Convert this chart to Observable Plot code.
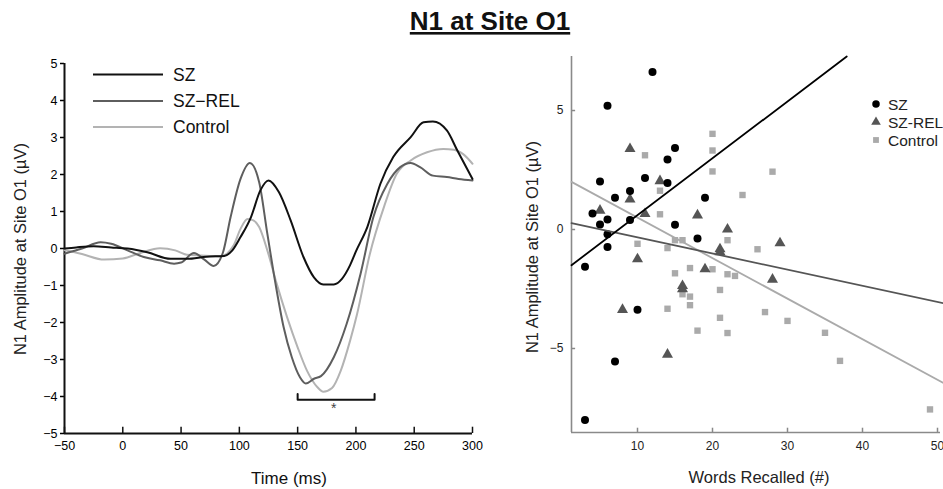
<!DOCTYPE html>
<html><head><meta charset="utf-8">
<script src="https://cdn.jsdelivr.net/npm/d3@7"></script>
<script src="https://cdn.jsdelivr.net/npm/@observablehq/plot@0.6"></script>
<style>
body{margin:0;background:#fff;}
#wrap{position:relative;width:943px;height:489px;overflow:hidden;background:#fff;font-family:"Liberation Sans",Arial,sans-serif;}
#left{position:absolute;left:0;top:0;}
#right{position:absolute;left:490px;top:0;}
#over{position:absolute;left:0;top:0;pointer-events:none;}
</style>
</head><body>
<div id="wrap"><div id="left"></div><div id="right"></div><svg id="over" width="943" height="489"></svg></div>
<script>
// ---------- Left panel: ERP waveforms ----------
const groups = ["SZ", "SZ\u2212REL", "Control"];
const timeTicks = [-50, 0, 50, 100, 150, 200, 250, 300];
const ampTicks = [-5, -4, -3, -2, -1, 0, 1, 2, 3, 4, 5];

const szT = [-50, -40, -25, -10, 4, 21, 41, 55, 72, 87, 94, 101, 110, 118, 125, 134, 144, 155, 164, 172, 181, 188, 195, 200, 210, 221, 232, 247, 258, 266, 278, 287, 300];
const szV = [0.0, 0.03, 0.06, 0.03, 0.0, -0.1, -0.28, -0.28, -0.22, -0.2, -0.05, 0.31, 0.85, 1.57, 1.84, 1.52, 0.76, -0.23, -0.78, -0.97, -0.97, -0.82, -0.45, -0.08, 0.6, 1.75, 2.47, 3.01, 3.41, 3.43, 3.19, 2.65, 1.88];

const relT = [-50, -35, -19, -10, 4, 18, 32, 44, 50, 61, 70, 78, 86, 92.5, 101, 109, 117, 124, 131, 138, 145, 152, 157, 164, 170, 181, 192, 204, 215, 227, 238, 247, 255, 266, 278, 288, 300];
const relV = [-0.14, 0.0, 0.17, 0.13, -0.05, -0.23, -0.32, -0.41, -0.38, -0.12, -0.3, -0.47, -0.1, 0.85, 1.88, 2.31, 1.79, 0.4, -0.95, -2.13, -2.94, -3.48, -3.65, -3.52, -3.45, -2.94, -2.04, -0.68, 0.85, 1.75, 2.2, 2.31, 2.2, 1.97, 1.93, 1.88, 1.84];

const ctlT = [-50, -35, -16, 0, 15, 32, 45, 55, 67, 84, 95, 101, 107, 112, 117, 124, 132, 141, 150, 158, 167, 172, 179.5, 187, 195, 201, 212, 224, 235, 247, 261, 275, 284, 292, 300];
const ctlV = [-0.05, -0.15, -0.3, -0.27, -0.12, 0.01, -0.05, -0.17, -0.19, -0.21, 0.08, 0.53, 0.8, 0.76, 0.58, -0.05, -0.95, -1.86, -2.67, -3.3, -3.75, -3.87, -3.77, -3.3, -2.49, -1.77, -0.14, 1.12, 2.02, 2.38, 2.6, 2.69, 2.67, 2.55, 2.29];

const bracketT = [150, 150, 216, 216];
const bracketV = [-3.93, -4.09, -4.09, -3.93];
const starT = [181];
const starV = [-4.32];

// ---------- Right panel: scatter ----------
const wordTicks = [10, 20, 30, 40, 50];
const scatTicks = [-5, 0, 5];
const scatGroups = ["SZ", "SZ-REL", "Control"];

const szX = [12, 6, 15, 14, 11, 5, 14, 9, 7, 19, 4, 5, 6, 9, 15, 6, 18, 6, 3, 10, 7, 3];
const szY = [6.62, 5.2, 3.42, 2.94, 2.16, 2.02, 1.95, 1.62, 1.33, 1.33, 0.67, 0.21, 0.42, 0.4, 0.2, -0.2, -0.38, -0.74, -1.56, -3.37, -5.55, -8.0];

const relX = [9, 13, 9, 5, 11, 18, 22, 10, 21, 21, 19, 16, 16, 8, 14, 29, 28];
const relY = [3.39, 2.04, 1.27, 0.8, 0.66, 0.6, 0.01, -1.24, -0.82, -0.95, -1.66, -2.37, -2.5, -3.37, -5.25, -0.57, -2.1];

const ctlX = [20, 20, 11, 20, 13, 13, 10, 15, 16, 14, 22, 15, 17, 20, 22, 23, 21, 16, 17, 17, 14, 21, 18, 22, 24, 28, 26, 27, 30, 35, 37, 49];
const ctlY = [4.02, 3.32, 3.12, 2.44, 1.63, 0.64, -0.6, -0.45, -0.45, -0.78, -0.45, -1.84, -1.62, -1.67, -1.88, -1.95, -2.54, -2.72, -2.82, -3.18, -3.33, -3.71, -4.25, -4.35, 1.45, 2.43, -0.83, -3.47, -3.84, -4.34, -5.52, -7.56];

// fitted regression lines (end points)
const fitSZx = [1.2, 37.9],  fitSZy = [-1.5, 7.27];
const fitRELx = [1.2, 50.8], fitRELy = [0.27, -3.1];
const fitCTLx = [1.2, 50.8], fitCTLy = [2.0, -6.45];

const lineColors = ["#111111", "#5e5e5e", "#b3b3b3"];
const dotColors = ["#000000", "#555555", "#aaaaaa"];

const zip = (a, b) => a.map((v, i) => ({x: v, y: b[i]}));
const font = "Liberation Sans, Arial, sans-serif";

const LX0 = -50, LX1 = 300, LY0 = -5, LY1 = 5;
const leftPlot = Plot.plot({
  width: 490, height: 489,
  marginLeft: 64, marginRight: 18, marginTop: 63, marginBottom: 56,
  x: {domain: [LX0, LX1]},
  y: {domain: [LY0, LY1]},
  style: {fontFamily: font, fontSize: "12.5px", color: "#000", background: "transparent", overflow: "visible"},
  marks: [
    Plot.axisX({ticks: timeTicks, tickSize: 0, tickPadding: 8, label: null, fontSize: 12.5}),
    Plot.axisY({ticks: ampTicks, tickSize: 4, tickPadding: 3, label: null, fontSize: 12.5, strokeWidth: 1.5}),
    Plot.ruleX(timeTicks, {x: d => d, y1: LY0, y2: LY0 + 0.17, stroke: "#111", strokeWidth: 1.5}),
    Plot.ruleY([LY0], {x1: LX0, x2: LX1, stroke: "#111", strokeWidth: 2}),
    Plot.ruleX([LX0], {y1: LY0, y2: LY1, stroke: "#111", strokeWidth: 2}),
    Plot.line(zip(ctlT, ctlV), {x: "x", y: "y", stroke: lineColors[2], strokeWidth: 2, curve: "monotone-x"}),
    Plot.line(zip(relT, relV), {x: "x", y: "y", stroke: lineColors[1], strokeWidth: 2, curve: "monotone-x"}),
    Plot.line(zip(szT, szV), {x: "x", y: "y", stroke: lineColors[0], strokeWidth: 2, curve: "monotone-x"}),
    Plot.line(zip(bracketT, bracketV), {x: "x", y: "y", stroke: "#111", strokeWidth: 2}),
    Plot.text(zip(starT, starV), {x: "x", y: "y", text: () => "*", fontSize: 14, fill: "#444"})
  ]
});
document.getElementById("left").appendChild(leftPlot);

const RX0 = 1.2, RX1 = 50.8, RY0 = -8.53, RY1 = 7.27;
const rightPlot = Plot.plot({
  width: 453, height: 489,
  marginLeft: 81, marginRight: 0, marginTop: 56, marginBottom: 57,
  x: {domain: [RX0, RX1]},
  y: {domain: [RY0, RY1]},
  style: {fontFamily: font, fontSize: "12px", color: "#222", background: "transparent"},
  marks: [
    Plot.axisX({ticks: wordTicks, tickSize: 0, tickPadding: 9, label: null, fontSize: 12}),
    Plot.axisY({ticks: scatTicks, tickSize: 0, tickPadding: 8, label: null, fontSize: 12}),
    Plot.ruleX(wordTicks, {x: d => d, y1: RY0, y2: RY0 + 0.18, stroke: "#888", strokeWidth: 1.5}),
    Plot.ruleY(scatTicks, {y: d => d, x1: RX0, x2: RX0 + 0.55, stroke: "#888", strokeWidth: 1.5}),
    Plot.ruleY([RY0], {x1: RX0, x2: 50.4, stroke: "#8a8a8a", strokeWidth: 1.6}),
    Plot.ruleX([RX0], {y1: RY0, y2: RY1, stroke: "#8a8a8a", strokeWidth: 1.6}),
    Plot.dot(zip(ctlX, ctlY), {x: "x", y: "y", symbol: "square", r: 3.6, fill: dotColors[2], stroke: "none"}),
    Plot.dot(zip(relX, relY), {x: "x", y: "y", symbol: "triangle", r: 4.1, fill: dotColors[1], stroke: "none"}),
    Plot.dot(zip(szX, szY), {x: "x", y: "y", symbol: "circle", r: 4, fill: dotColors[0], stroke: "none"}),
    Plot.line(zip(fitCTLx, fitCTLy), {x: "x", y: "y", stroke: dotColors[2], strokeWidth: 1.8}),
    Plot.line(zip(fitRELx, fitRELy), {x: "x", y: "y", stroke: dotColors[1], strokeWidth: 1.8}),
    Plot.line(zip(fitSZx, fitSZy), {x: "x", y: "y", stroke: dotColors[0], strokeWidth: 1.8})
  ]
});
document.getElementById("right").appendChild(rightPlot);

// ---------- Overlay: title, axis titles, legends ----------
const over = d3.select("#over").style("font-family", font);
const title = over.append("text").attr("x", 490).attr("y", 29.5).attr("text-anchor", "middle")
  .attr("font-size", 26).attr("font-weight", "bold").attr("fill", "#111").text("N1 at Site O1");
const tw = title.node().getComputedTextLength();
over.append("rect").attr("x", 490 - tw / 2).attr("y", 32).attr("width", tw).attr("height", 2.6).attr("fill", "#111");

over.append("text").attr("transform", "translate(25.5,249) rotate(-90)").attr("text-anchor", "middle")
  .attr("font-size", 16.5).attr("fill", "#222").text("N1 Amplitude at Site O1 (\u00b5V)");
over.append("text").attr("transform", "translate(537.5,247) rotate(-90)").attr("text-anchor", "middle")
  .attr("font-size", 16.5).attr("fill", "#222").text("N1 Amplitude at Site O1 (\u00b5V)");
over.append("text").attr("x", 289).attr("y", 484).attr("text-anchor", "middle")
  .attr("font-size", 17).attr("fill", "#111").text("Time (ms)");
over.append("text").attr("x", 759).attr("y", 483).attr("text-anchor", "middle")
  .attr("font-size", 16.5).attr("fill", "#222").text("Words Recalled (#)");

// left legend
const lgY = [74.5, 101, 127];
groups.forEach((g, i) => {
  over.append("line").attr("x1", 93).attr("x2", 163).attr("y1", lgY[i]).attr("y2", lgY[i])
    .attr("stroke", lineColors[i]).attr("stroke-width", 2.2);
  over.append("text").attr("x", 173).attr("y", lgY[i] + 6).attr("font-size", 17.5).attr("fill", "#111").text(g);
});
// right legend
const rgY = [104, 122, 140];
const sym = [d3.symbolCircle, d3.symbolTriangle, d3.symbolSquare];
const symSize = [44, 40, 34];
scatGroups.forEach((g, i) => {
  over.append("path").attr("d", d3.symbol(sym[i], symSize[i])()).attr("transform", `translate(876,${rgY[i]})`)
    .attr("fill", dotColors[i]);
  over.append("text").attr("x", 888).attr("y", rgY[i] + 5.5).attr("font-size", 15.5).attr("fill", "#222").text(g);
});
</script>
</body></html>
